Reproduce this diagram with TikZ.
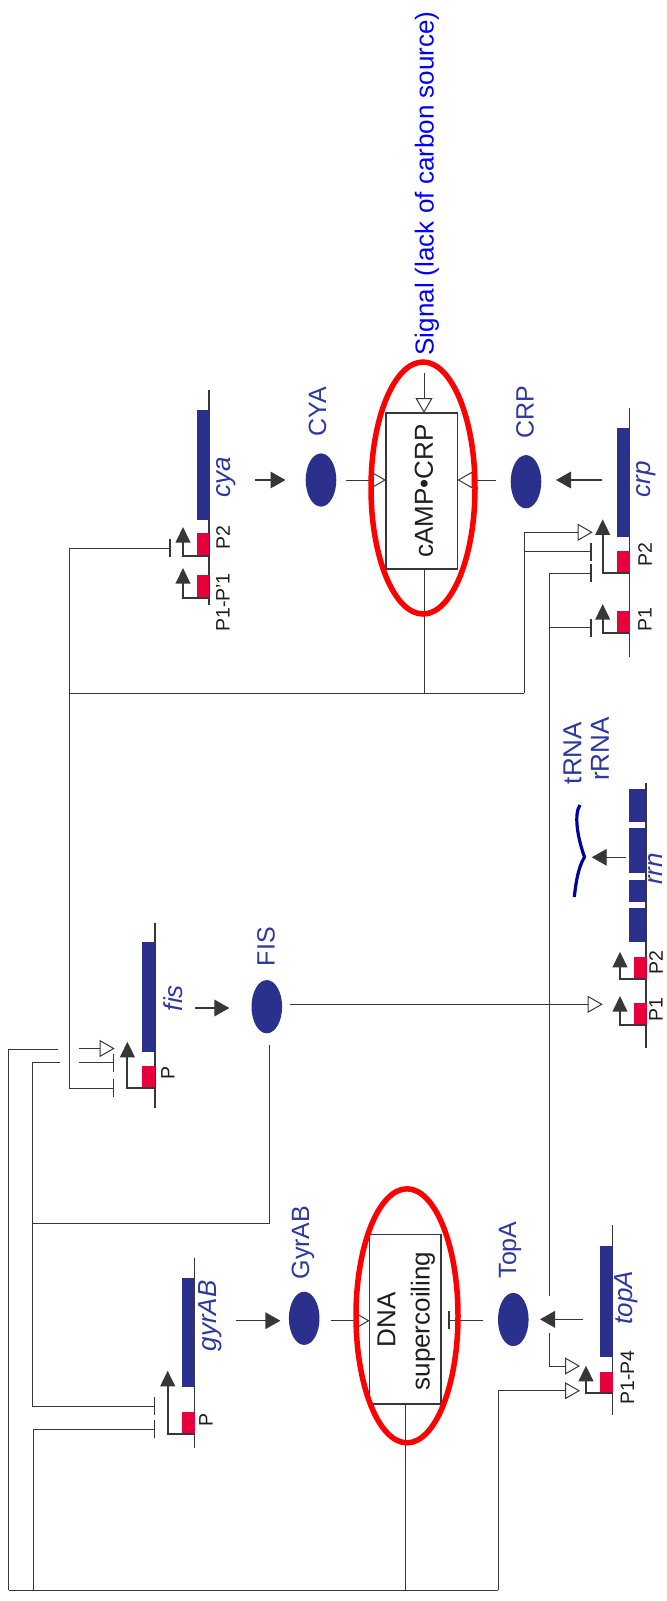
\documentclass[tikz,border=0pt]{standalone}
\usepackage{fontspec}
\setmainfont{Liberation Sans}
\usetikzlibrary{arrows.meta,shapes.geometric}
\definecolor{genblue}{RGB}{42,48,140}
\definecolor{lblblue}{RGB}{45,55,160}
\definecolor{promred}{RGB}{232,0,61}
\definecolor{lncol}{RGB}{55,55,55}
\definecolor{sigblue}{RGB}{0,0,255}
\definecolor{rnablue}{RGB}{0,0,160}
\definecolor{txtcol}{RGB}{30,30,30}
\tikzset{
  lnk/.style={draw=lncol, line width=0.5pt},
  actarr/.style={lnk, -{Triangle[open, length=7.5pt, width=8.5pt]}},
  inharr/.style={lnk, -{Bar[width=9pt, line width=0.75pt]}},
  prodarr/.style={draw=lncol, line width=0.7pt, -{Triangle[length=7.5pt, width=8.3pt]}},
  promarr/.style={draw=lncol, line width=1pt, -{Triangle[length=7.8pt, width=7.3pt]}},
  gline/.style={draw=lncol, line width=0.7pt},
  protein/.style={ellipse, fill=genblue, minimum width=15.3pt, minimum height=26.6pt, inner sep=0pt},
  ring/.style={ellipse, draw=red, line width=2.75pt, inner sep=0pt},
  boxnode/.style={draw=lncol, line width=0.75pt, inner sep=0pt},
  protlbl/.style={rotate=90, inner sep=0pt, text=lblblue, font=\fontsize{12.5}{14}\selectfont},
  genelbl/.style={rotate=90, inner sep=0pt, text=lblblue, font=\fontsize{13}{15}\selectfont\itshape},
  plbl/.style={rotate=90, inner sep=0pt, text=txtcol, font=\fontsize{9.75}{11}\selectfont},
  boxtxt/.style={rotate=90, inner sep=0pt, text=txtcol, font=\fontsize{13}{15}\selectfont},
  sigtxt/.style={rotate=90, inner sep=0pt, text=sigblue, font=\fontsize{13}{15}\selectfont},
}
\begin{document}
\begin{tikzpicture}[x=0.5pt,y=-0.5pt]
\fill[white] (0,0) rectangle (666,1601);
\useasboundingbox (0,0) rectangle (666,1601);

% ===================== cya =====================
\draw[gline] (209,390) -- (209,605);
\fill[genblue] (197,410) rectangle (209,520);
\fill[promred] (197,533) rectangle (209,555.5);
\fill[promred] (197,575) rectangle (209,598);
\draw[promarr] (209,556) -| (183,527);
\draw[promarr] (209,598) -| (183,568);
\node[genelbl] (cyaL) at (226,477) {cya};
\node[plbl] (cyaP2) at (223,538) {P2};
\node[plbl] (cyaP1) at (223,602.5) {P1-P'1};

\node[protein] (CYA) at (321,480) {};
\node[protlbl] (CYAL) at (317.5,412) {CYA};
\draw[prodarr] (255,480) -- (285.5,480);

% ===================== cAMP-CRP =====================
\node[boxnode, minimum width=35.75pt, minimum height=78pt] (camp) at (421.75,491) {};
\node[boxtxt] (campT) at (424,491) {cAMP•CRP};
\draw[actarr] (346,480) -- (386,480);
\coordinate (sigEnd) at (424,373);
\draw[actarr] (sigEnd) -- (424,413);
\node[sigtxt] (sig) at (427,183.5) {Signal (lack of carbon source)};

\node[protein] (CRP) at (526,481.7) {};
\node[protlbl] (CRPL) at (525,412) {CRP};
\draw[actarr] (496,480) -- (457.5,480);
\draw[prodarr] (601.7,480) -- (556,480);

% ===================== crp =====================
\draw[gline] (629.3,408) -- (629.3,657);
\fill[genblue] (617.3,428) rectangle (629.3,537);
\fill[promred] (617.3,551) rectangle (630,573);
\fill[promred] (617.3,611) rectangle (630,633);
\draw[promarr] (629.3,573) -| (602.7,519.3);
\draw[promarr] (629.3,633) -| (602.7,604);
\node[genelbl] (crpL) at (646,479) {crp};
\node[plbl] (crpP2) at (645,555) {P2};
\node[plbl] (crpP1) at (645,620) {P1};

% regulation of crp and cya by cAMP-CRP
\draw[lnk] (424,569) -- (424,693);
\draw[lnk] (69,693) -- (524,693);
\draw[actarr] (524,693) -- (524,532.3) -- (592.7,532.3);
\draw[inharr] (524,551.7) -- (591.7,551.7);
\draw[lnk] (69,548.3) -- (69,1088);
\draw[inharr] (69,548.3) -- (170.8,548.3);

% FIS line to crp and topA
\draw[inharr] (549,1296) -- (549,573.3) -- (591.7,573.3);
\draw[inharr] (549,627.7) -- (591.7,627.7);
\draw[actarr] (549,1333.3) -- (549,1366) -- (580,1366);

% ===================== rrn =====================
\draw[gline] (646,782.7) -- (646,1048);
\fill[genblue] (629.3,789.3) rectangle (645,821.7);
\fill[genblue] (629.3,828.3) rectangle (645,873.3);
\fill[genblue] (629.3,880) rectangle (645,901.7);
\fill[genblue] (629.3,908.3) rectangle (645,941.7);
\fill[promred] (634,957.3) rectangle (646.7,979.3);
\fill[promred] (634,1002.7) rectangle (646.7,1025);
\draw[promarr] (646,979.3) -| (620,951.7);
\draw[promarr] (646,1025) -| (620,996);
\node[genelbl] (rrnL) at (655,869) {rrn};
\node[plbl] (rrnP2) at (656,962.5) {P2};
\node[plbl] (rrnP1) at (656,1010) {P1};
\node[protlbl, font=\fontsize{13}{15}\selectfont] (tRNA) at (572.5,753) {tRNA};
\node[protlbl, font=\fontsize{13}{15}\selectfont] (rRNA) at (600,749) {rRNA};
\draw[prodarr] (626,857.3) -- (591.7,857.3);
\draw[rnablue, line width=1.6pt] (580,805) .. controls (574,814) and (577,836) .. (584.5,857) .. controls (578,868) and (576,882) .. (574.3,897);

% ===================== fis =====================
\draw[gline] (155,923) -- (155,1108);
\fill[genblue] (142.3,942.3) rectangle (155,1051.7);
\fill[promred] (142.3,1066) rectangle (155,1087);
\draw[promarr] (155,1087.5) -| (127.4,1041.7);
\node[genelbl] (fisL) at (173,998) {fis};
\node[plbl] (fisP) at (168,1072.5) {P};
\node[protein] (FIS) at (266.8,1006.7) {};
\node[protlbl] (FISL) at (266,946.7) {FIS};
\draw[prodarr] (195.4,1008) -- (229.4,1008);
\draw[actarr] (290,1004.3) -- (602.7,1004.3);
\draw[lnk] (269.8,1045) -- (269.8,1223.3) -- (32,1223.3);

% regulators of fis
\draw[lnk] (8.5,1590) -- (8.5,1049.3) -- (58.2,1049.3);
\draw[actarr] (79.4,1048.5) -- (114.7,1048.5);
\draw[lnk] (32,1062.7) -- (32,1406);
\draw[lnk] (32,1062.7) -- (60.3,1062.7);
\draw[inharr] (79.4,1062.7) -- (114,1062.7);
\draw[inharr] (69,1088) -- (114,1088);

% ===================== gyrAB =====================
\draw[gline] (194.3,1258.3) -- (194.3,1448.3);
\fill[genblue] (182.3,1278.3) rectangle (194.3,1387.3);
\fill[promred] (182.3,1412.3) rectangle (195,1434);
\draw[promarr] (194.3,1434) -| (167.7,1370.7);
\node[genelbl] (gyrL) at (210,1316) {gyrAB};
\node[plbl] (gyrP) at (206,1420) {P};
\draw[inharr] (32,1406) -- (155,1406);
\draw[inharr] (33.1,1590) -- (33.1,1429) -- (155,1429);

\node[protein] (GyrAB) at (304.2,1318.3) {};
\node[protlbl] (GyrABL) at (303,1242.5) {GyrAB};
\draw[prodarr] (235.8,1320.7) -- (280.4,1320.7);

% ===================== DNA supercoiling =====================
\node[boxnode, minimum width=35.7pt, minimum height=84.85pt] (dna) at (405.3,1319.2) {};
\node[boxtxt] (dnaT1) at (386.5,1320) {DNA};
\node[boxtxt] (dnaT2) at (423,1321) {supercoiling};
\draw[actarr] (330.5,1320.7) -- (369.6,1320.7);
\draw[lnk] (405.7,1404) -- (405.7,1590);
\draw[lnk] (8.5,1590) -- (498.3,1590);
\draw[actarr] (498.3,1590) -- (498.3,1390.7) -- (580,1390.7);

% ===================== topA =====================
\node[protein] (TopA) at (513.3,1319.5) {};
\node[protlbl] (TopAL) at (510,1250) {TopA};
\draw[inharr] (483.3,1320) -- (448.3,1320);
\draw[prodarr] (583.3,1319.3) -- (540,1319.3);
\draw[gline] (612.7,1225) -- (612.7,1415);
\fill[genblue] (600,1246) rectangle (612.7,1356.7);
\fill[promred] (600,1371.7) rectangle (613,1393.3);
\draw[promarr] (612.7,1393.3) -| (586,1365.7);
\node[genelbl] (topL) at (626,1297.5) {topA};
\node[plbl] (topP) at (627.5,1377.5) {P1-P4};

% ===================== red rings =====================
\node[ring, minimum width=52pt, minimum height=126pt] (ring1) at (423,488) {};
\node[ring, minimum width=51pt, minimum height=127pt] (ring2) at (407,1315.8) {};
\end{tikzpicture}
\end{document}
